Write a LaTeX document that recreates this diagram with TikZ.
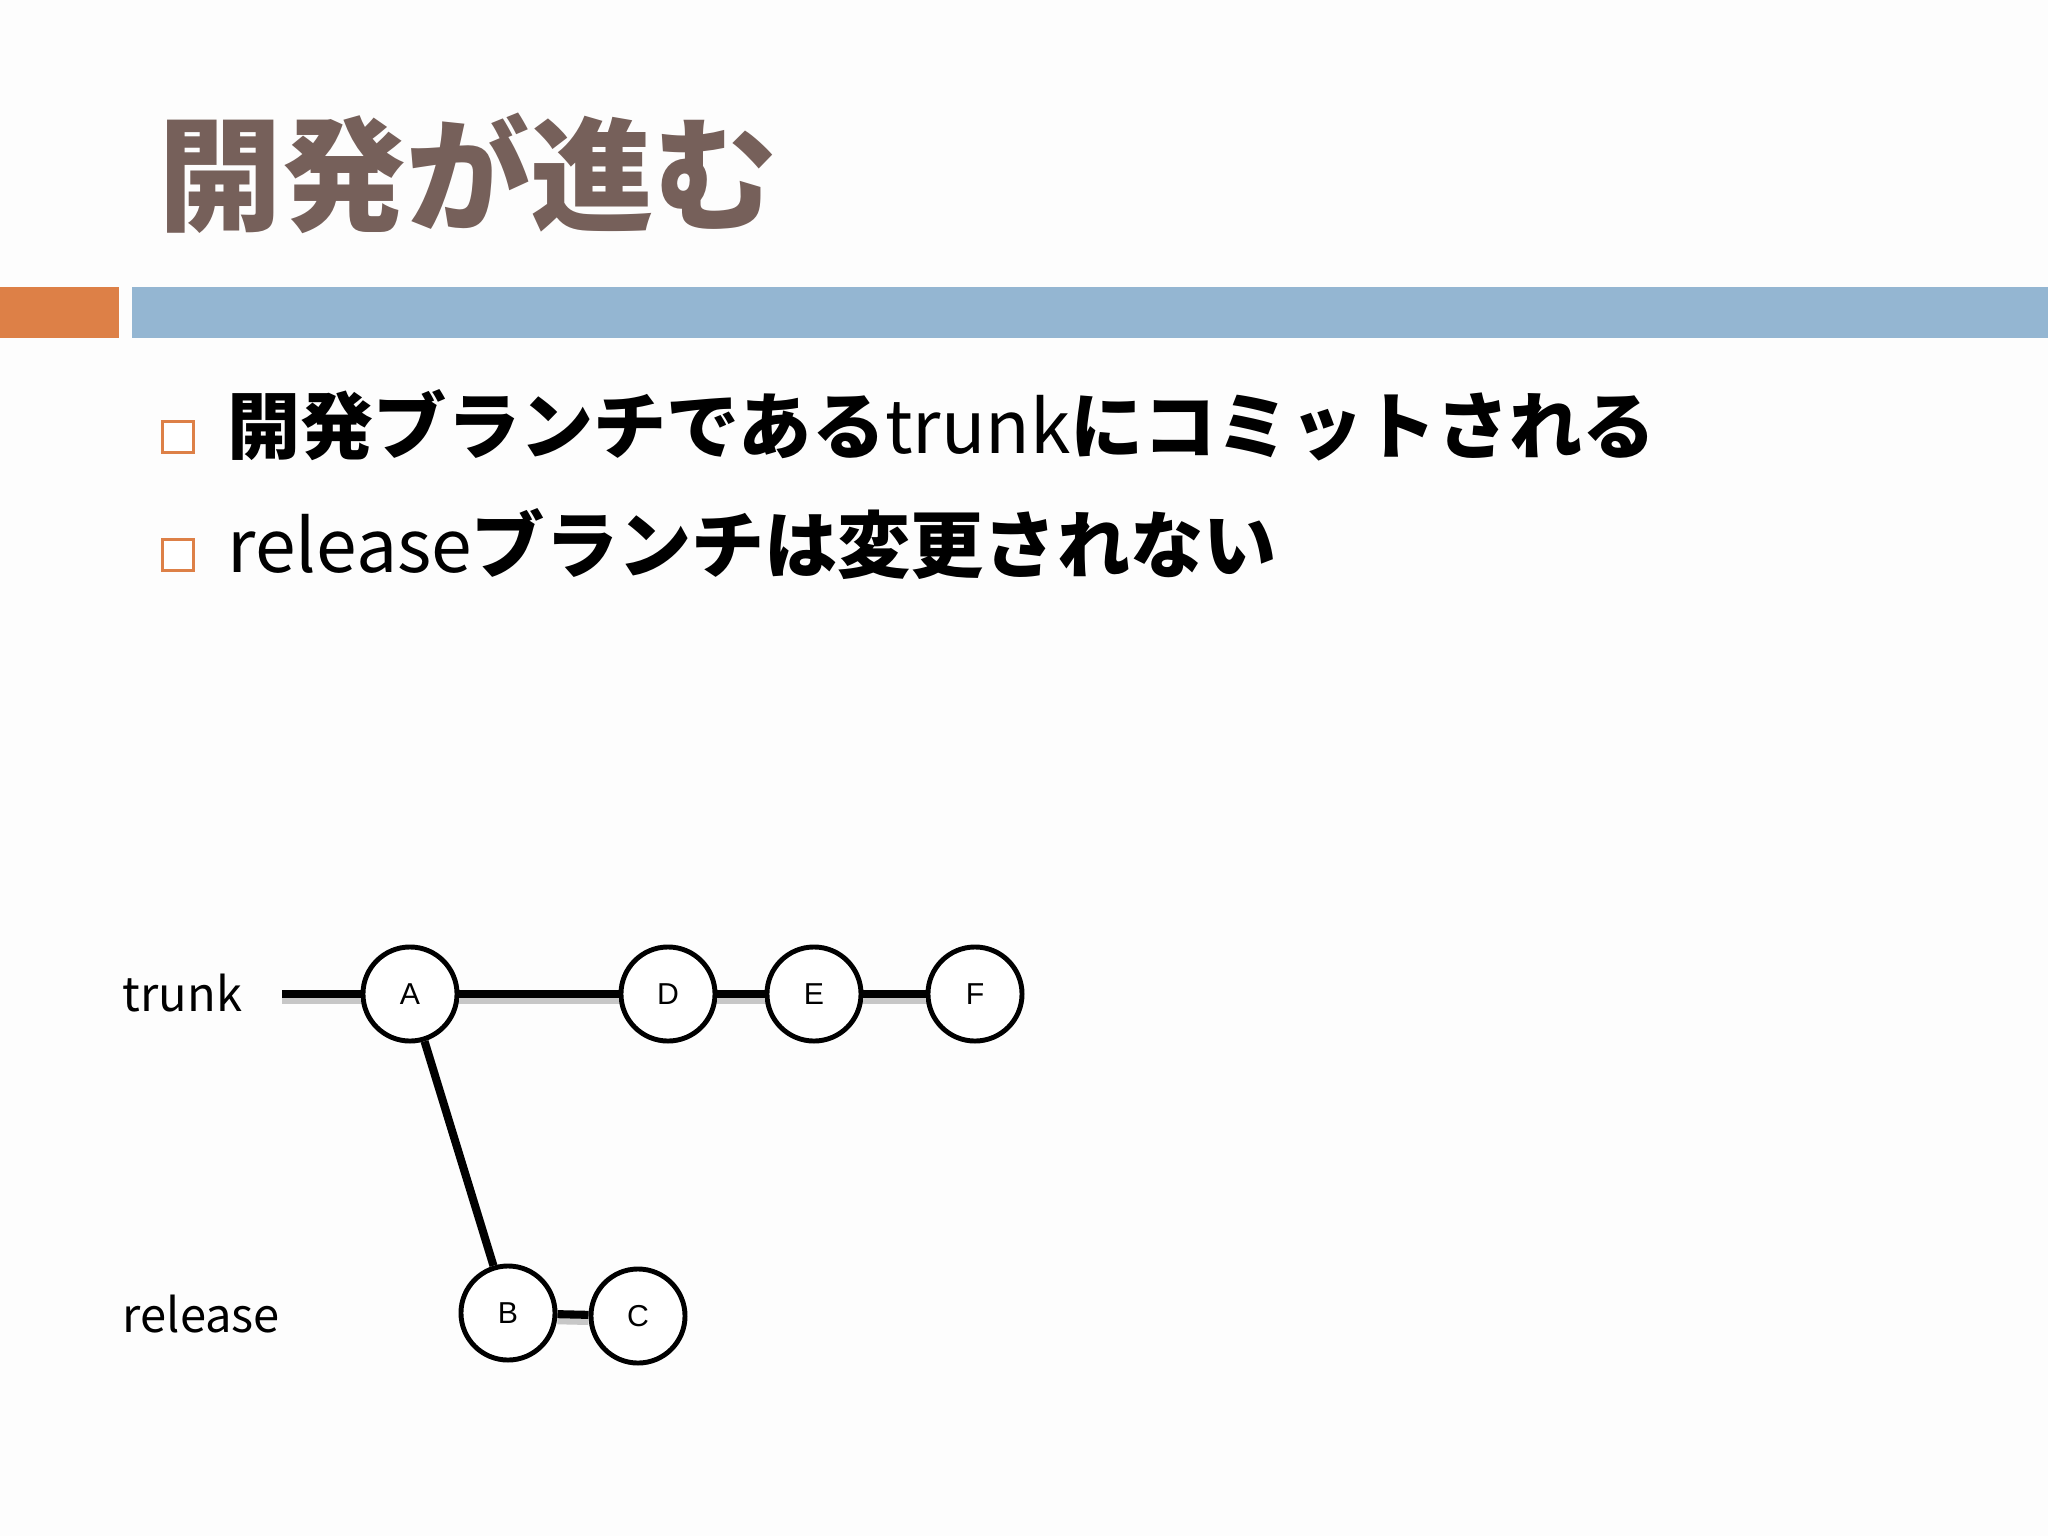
\documentclass[tikz,border=0pt]{standalone}
\usepackage{fontspec}
\setmainfont{Noto Sans CJK JP}
\newfontfamily\lettfont{Liberation Sans}
\usepackage{xcolor}
\usepackage{tikz}
\usetikzlibrary{calc}
\definecolor{bg}{HTML}{FDFDFD}
\definecolor{titlecol}{HTML}{76605A}
\definecolor{accent}{HTML}{DD8047}
\definecolor{band}{HTML}{94B6D2}
\tikzset{
  commit/.style={circle, draw=black, fill=white, line width=1.4pt, minimum size=0.94cm, inner sep=0pt, font=\lettfont\fontsize{8.6}{9}\selectfont},
  branch/.style={draw=black, line width=2.3pt},
  branchshade/.style={draw=black!22, line width=3.2pt, transform canvas={yshift=-0.045cm}},
  tick/.style={rectangle, draw=accent, fill=white, line width=0.8pt, minimum size=0.31cm, inner sep=0pt},
  headline/.style={anchor=base west, inner sep=0pt, text=titlecol, font=\fontsize{35.2}{40}\selectfont\bfseries},
  item/.style={anchor=base west, inner sep=0pt, text=black, font=\fontsize{20.8}{24}\selectfont},
  lab/.style={anchor=base west, inner sep=0pt, text=black, font=\fontsize{13.4}{16}\selectfont},
}

\begin{document}
\begin{tikzpicture}[x=0.01cm, y=-0.01cm]
  \fill[bg] (0,0) rectangle (2048,1536);
  \useasboundingbox (0,0) rectangle (2048,1536);

  \fill[accent] (0,287) rectangle (119,338);
  \fill[band] (132,287) rectangle (2048,338);

  \node[headline] (title) at (158,221) {開発が進む};

  \node[tick] (b1) at (178,437) {};
  \node[tick] (b2) at (178,555) {};
  \node[item] (l1) at (227,453) {{\bfseries 開発ブランチである}trunk{\bfseries にコミットされる}};
  \node[item] (l2) at (227,572) {release{\bfseries ブランチは変更されない}};

  \node[lab] (trunk) at (122,1011) {trunk};
  \node[lab] (release) at (122,1332) {release};

  \coordinate (t0) at (282,994);
  \node[commit] (A) at (410,994) {A};
  \node[commit] (D) at (668,994) {D};
  \node[commit] (E) at (814,994) {E};
  \node[commit] (F) at (975,994) {F};
  \node[commit] (B) at (508,1313) {B};
  \node[commit] (C) at (638,1316) {C};

  \draw[branchshade] (t0) -- (A);
  \draw[branchshade] (A) -- (D);
  \draw[branchshade] (D) -- (E);
  \draw[branchshade] (E) -- (F);
  \draw[branchshade] (B) -- (C);

  \draw[branch] (t0) -- (A);
  \draw[branch] (A) -- (D);
  \draw[branch] (D) -- (E);
  \draw[branch] (E) -- (F);
  \draw[branch] (A) -- (B);
  \draw[branch] (B) -- (C);
\end{tikzpicture}
\end{document}
